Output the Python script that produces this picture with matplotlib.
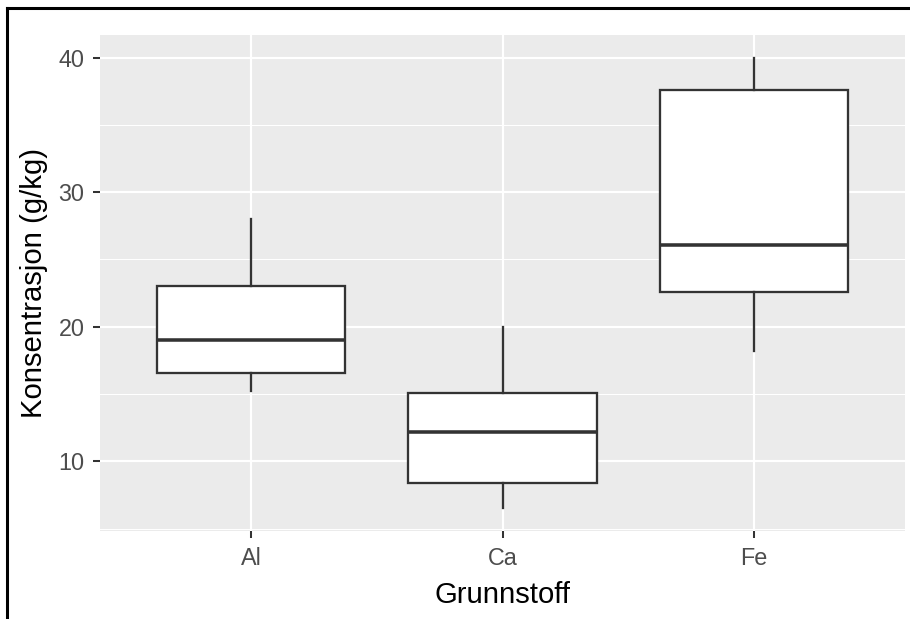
import matplotlib
matplotlib.use("Agg")
import matplotlib.pyplot as plt
from matplotlib.lines import Line2D
from matplotlib.ticker import MultipleLocator

# Concentration summary per element (g/kg)
elements = ["Al", "Ca", "Fe"]
whisker_low = [15.2, 6.5, 18.2]
q1 = [16.6, 8.4, 22.6]
median = [19.0, 12.2, 26.1]
q3 = [23.0, 15.1, 37.6]
whisker_high = [28.0, 20.0, 40.0]

DPI = 183
W, H = 910, 619

plt.rcParams["font.family"] = ["Liberation Sans", "DejaVu Sans"]

fig = plt.figure(figsize=(W / DPI, H / DPI), dpi=DPI)
ax = fig.add_axes([100 / W, 1 - 531 / H, 805 / W, 496 / H])

stats = []
for i, name in enumerate(elements):
    stats.append({
        "label": name,
        "whislo": whisker_low[i],
        "q1": q1[i],
        "med": median[i],
        "q3": q3[i],
        "whishi": whisker_high[i],
        "fliers": [],
    })

edge = "#333333"
ax.bxp(stats, positions=[1, 2, 3], widths=0.75, patch_artist=True,
       showcaps=False, showfliers=False,
       boxprops=dict(facecolor="white", edgecolor=edge, linewidth=0.9),
       whiskerprops=dict(color=edge, linewidth=0.9),
       medianprops=dict(color=edge, linewidth=1.4, solid_capstyle="butt"),
       zorder=3)

# ggplot-like panel
ax.set_facecolor("#EBEBEB")
for s in ax.spines.values():
    s.set_visible(False)
ax.set_xlim(0.4, 3.6)
lo = min(whisker_low)
hi = max(whisker_high)
pad = 0.05 * (hi - lo)
ax.set_ylim(lo - pad, hi + pad)
ax.yaxis.set_major_locator(MultipleLocator(10))
ax.yaxis.set_minor_locator(MultipleLocator(5))
ax.grid(which="major", color="white", linewidth=0.85, zorder=0)
ax.grid(which="minor", axis="y", color="white", linewidth=0.4, zorder=0)
ax.set_axisbelow(True)
ax.tick_params(which="major", length=2.9, width=0.8, color=edge,
               labelsize=9.2, labelcolor="#4D4D4D", pad=3.2)
ax.tick_params(which="minor", length=0)
ax.set_xticks([1, 2, 3])
ax.set_xticklabels(elements)

ax.set_xlabel("Grunnstoff", fontsize=11.5, color="black", labelpad=4.5)
ax.set_ylabel("Konsentrasjon (g/kg)", fontsize=11.5, color="black", labelpad=4)

# Frame lines along the left and top edges
fig.add_artist(Line2D([6.5 / W, 6.5 / W], [0, 1 - 7.5 / H], color="black",
                      linewidth=1.2, transform=fig.transFigure))
fig.add_artist(Line2D([6.5 / W, 1], [1 - 7.5 / H, 1 - 7.5 / H], color="black",
                      linewidth=1.2, transform=fig.transFigure))

fig.savefig("out.png", dpi=DPI, facecolor="white")
